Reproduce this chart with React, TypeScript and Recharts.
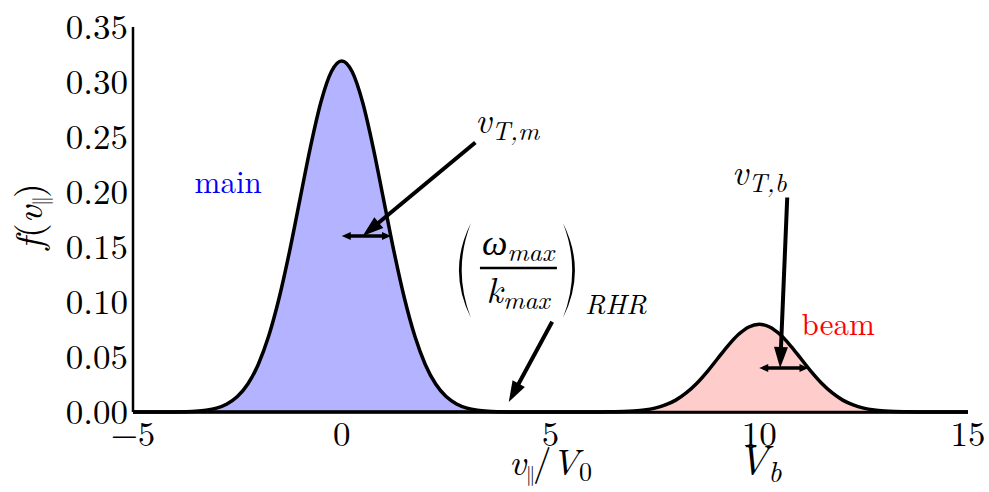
import React from 'react';
import { Area, ComposedChart, ReferenceDot, ReferenceLine, XAxis, YAxis } from 'recharts';

// v_par / V0 sample points
const velocity = [
  -5, -4.75, -4.5, -4.25, -4, -3.75, -3.5, -3.25, -3, -2.75, -2.5, -2.25, -2, -1.75, -1.5, -1.25,
  -1, -0.75, -0.5, -0.25, 0, 0.25, 0.5, 0.75, 1, 1.25, 1.5, 1.75, 2, 2.25, 2.5, 2.75, 3, 3.25,
  3.5, 3.75, 4, 4.25, 4.5, 4.75, 5, 5.25, 5.5, 5.75, 6, 6.25, 6.5, 6.75, 7, 7.25, 7.5, 7.75, 8,
  8.25, 8.5, 8.75, 9, 9.25, 9.5, 9.75, 10, 10.25, 10.5, 10.75, 11, 11.25, 11.5, 11.75, 12, 12.25,
  12.5, 12.75, 13, 13.25, 13.5, 13.75, 14, 14.25, 14.5, 14.75, 15,
];

// main population f(v)
const mainF = [
  0, 0, 0, 0, 0.0001, 0.0003, 0.0007, 0.0016, 0.0035, 0.0073, 0.014, 0.0254, 0.0432, 0.069, 0.1036,
  0.1461, 0.1936, 0.2409, 0.2816, 0.3093, 0.3191, 0.3093, 0.2816, 0.2409, 0.1936, 0.1461, 0.1036,
  0.069, 0.0432, 0.0254, 0.014, 0.0073, 0.0035, 0.0016, 0.0007, 0.0003, 0.0001, 0, 0, 0, 0, 0, 0,
  0, 0, 0, 0, 0, 0, 0, 0, 0, 0, 0, 0, 0, 0, 0, 0, 0, 0, 0, 0, 0, 0, 0, 0, 0, 0, 0, 0, 0, 0, 0, 0,
  0, 0, 0, 0, 0, 0,
];

// beam population f(v)
const beamF = [
  0, 0, 0, 0, 0, 0, 0, 0, 0, 0, 0, 0, 0, 0, 0, 0, 0, 0, 0, 0, 0, 0, 0, 0, 0, 0, 0, 0, 0, 0, 0, 0,
  0, 0, 0, 0, 0, 0, 0, 0, 0, 0, 0, 0, 0, 0.0001, 0.0002, 0.0004, 0.0009, 0.0018, 0.0035, 0.0064,
  0.0108, 0.0173, 0.0259, 0.0365, 0.0484, 0.0602, 0.0704, 0.0773, 0.0798, 0.0773, 0.0704, 0.0602,
  0.0484, 0.0365, 0.0259, 0.0173, 0.0108, 0.0064, 0.0035, 0.0018, 0.0009, 0.0004, 0.0002, 0.0001,
  0, 0, 0, 0, 0,
];

const xTicks = [-5, 0, 5, 10, 15];
const yTicks = [0, 0.05, 0.1, 0.15, 0.2, 0.25, 0.3, 0.35];

// annotation arrows, [from, to] in data coords
const pointerArrows = [
  [{ x: 3.2, y: 0.245 }, { x: 0.5, y: 0.16 }],
  [{ x: 10.67, y: 0.195 }, { x: 10.5, y: 0.04 }],
  [{ x: 5.04, y: 0.082 }, { x: 4.0, y: 0.009 }],
];
const widthArrows = [
  [{ x: 0, y: 0.16 }, { x: 1.18, y: 0.16 }],
  [{ x: 10, y: 0.04 }, { x: 11.18, y: 0.04 }],
];

const data = velocity.map((v, i) => ({ v, main: mainF[i], beam: beamF[i] }));

const CM = '"Latin Modern Roman"';
const GREEK = '"Liberation Serif"';
const fmtX = (v: number) => (v < 0 ? `\u2212${-v}` : `${v}`);
const fmtY = (v: number) => v.toFixed(2);

function head(tx: number, ty: number, ux: number, uy: number, len: number, hw: number) {
  const bx = tx - ux * len;
  const by = ty - uy * len;
  return `${tx},${ty} ${bx - uy * hw},${by + ux * hw} ${bx + uy * hw},${by - ux * hw}`;
}

function arrowShape(len: number, hw: number, sw: number, both: boolean) {
  return (p: any) => {
    const { x1, y1, x2, y2 } = p;
    const d = Math.hypot(x2 - x1, y2 - y1) || 1;
    const ux = (x2 - x1) / d;
    const uy = (y2 - y1) / d;
    const sx = both ? x1 + ux * len * 0.8 : x1;
    const sy = both ? y1 + uy * len * 0.8 : y1;
    return (
      <g>
        <line x1={sx} y1={sy} x2={x2 - ux * len * 0.8} y2={y2 - uy * len * 0.8} stroke="#000" strokeWidth={sw} />
        <polygon points={head(x2, y2, ux, uy, len, hw)} fill="#000" />
        {both && <polygon points={head(x1, y1, -ux, -uy, len, hw)} fill="#000" />}
      </g>
    );
  };
}

const XLabel = (props: any) => {
  const vb = props.viewBox;
  const cx = vb.x + vb.width / 2;
  return (
    <text x={cx} y={vb.y + 63} textAnchor="middle" style={{ fontFamily: CM }} fontSize={37} fill="#000">
      <tspan fontStyle="italic">v</tspan>
      <tspan dy={6} fontSize={20} letterSpacing={-2}>||</tspan>
      <tspan dy={-6}>/</tspan>
      <tspan fontStyle="italic">V</tspan>
      <tspan fontSize={26} dy={6}>0</tspan>
    </text>
  );
};

const YLabel = (props: any) => {
  const vb = props.viewBox;
  const cy = vb.y + vb.height / 2 - 3;
  const x = 42;
  return (
    <text x={x} y={cy} transform={`rotate(-90 ${x} ${cy})`} textAnchor="middle" style={{ fontFamily: CM }} fontSize={38} fill="#000">
      <tspan fontStyle="italic">f</tspan>
      <tspan>(</tspan>
      <tspan fontStyle="italic">v</tspan>
      <tspan dy={6} fontSize={21} letterSpacing={-2}>||</tspan>
      <tspan dy={-6}>)</tspan>
    </text>
  );
};

const subText = (main: string, sub: string, size: number, subSize: number) => (p: any) => (
  <text x={p.cx} y={p.cy} style={{ fontFamily: CM }} fontSize={size} fontStyle="italic" fill="#000">
    <tspan>{main}</tspan>
    <tspan fontSize={subSize} dy={7}>{sub}</tspan>
  </text>
);

const plainText = (label: string, color: string) => (p: any) => (
  <text x={p.cx} y={p.cy} textAnchor="middle" style={{ fontFamily: CM }} fontSize={31} fill={color}>
    {label}
  </text>
);

const VbLabel = (p: any) => (
  <text x={p.cx} y={p.cy + 63} textAnchor="middle" style={{ fontFamily: CM }} fontSize={42} fontStyle="italic" fill="#000">
    <tspan>V</tspan>
    <tspan fontSize={29} dy={7}>b</tspan>
  </text>
);

function paren(x: number, top: number, bot: number, bulge: number) {
  const mid = (top + bot) / 2;
  const t = bulge > 0 ? 5.5 : -5.5;
  return `M${x},${top} Q${x - bulge},${mid} ${x},${bot} Q${x - bulge + t},${mid} ${x},${top} Z`;
}

const Fraction = (p: any) => {
  const { cx, cy } = p;
  return (
    <g fill="#000">
      <path d={paren(cx - 47, cy - 45, cy + 50, 24)} fill="#000" />
      <path d={paren(cx + 45, cy - 45, cy + 50, -24)} fill="#000" />
      <line x1={cx - 38} y1={cy} x2={cx + 39} y2={cy} stroke="#000" strokeWidth={2.5} />
      <text x={cx} y={cy - 13} textAnchor="middle" fontSize={36} fontStyle="italic" style={{ fontFamily: CM }}>
        <tspan style={{ fontFamily: GREEK }}>ω</tspan>
        <tspan fontSize={26} dy={6}>max</tspan>
      </text>
      <text x={cx} y={cy + 35} textAnchor="middle" fontSize={36} fontStyle="italic" style={{ fontFamily: CM }}>
        <tspan>k</tspan>
        <tspan fontSize={26} dy={6}>max</tspan>
      </text>
      <text x={cx + 67} y={cy + 46} fontSize={28} fontStyle="italic" style={{ fontFamily: CM }}>RHR</text>
    </g>
  );
};

const tickLineStyle = { stroke: '#000', strokeWidth: 1.6 };
const frame = { stroke: '#000', strokeWidth: 2.5 };
const tickText = { fill: '#000', fontSize: 35, style: { fontFamily: CM } };

export default function App() {
  return (
    <div style={{ position: 'absolute', left: 0, top: 0, width: 989, height: 492, background: '#fff' }}>
      <ComposedChart width={989} height={492} data={data} margin={{ top: 27, right: 21, bottom: 0, left: 0 }}>
        <XAxis
          xAxisId="b"
          dataKey="v"
          type="number"
          domain={[-5, 15]}
          ticks={xTicks}
          tickFormatter={fmtX}
          height={80}
          tickSize={0}
          tickMargin={9}
          tickLine={false}
          axisLine={frame}
          tick={tickText}
          label={{ content: XLabel }}
        />
        <XAxis xAxisId="bm" dataKey="v" type="number" domain={[-5, 15]} ticks={xTicks} mirror height={0} tickSize={8} tickLine={tickLineStyle} axisLine={false} tick={false} />
        <XAxis xAxisId="tm" orientation="top" dataKey="v" type="number" domain={[-5, 15]} ticks={xTicks} mirror height={0} tickSize={8} tickLine={tickLineStyle} axisLine={frame} tick={false} />
        <YAxis
          yAxisId="l"
          type="number"
          domain={[0, 0.35]}
          ticks={yTicks}
          tickFormatter={fmtY}
          width={133}
          tickSize={0}
          tickMargin={5}
          tickLine={false}
          axisLine={frame}
          tick={tickText}
          label={{ content: YLabel }}
        />
        <YAxis yAxisId="lm" type="number" domain={[0, 0.35]} ticks={yTicks} mirror width={0} tickSize={8} tickLine={tickLineStyle} axisLine={false} tick={false} />
        <YAxis yAxisId="rm" orientation="right" type="number" domain={[0, 0.35]} ticks={yTicks} mirror width={0} tickSize={8} tickLine={tickLineStyle} axisLine={frame} tick={false} />

        <Area xAxisId="b" yAxisId="l" dataKey="main" type="monotone" stroke="#000" strokeWidth={3.5} fill="#b3b3ff" fillOpacity={1} dot={false} activeDot={false} isAnimationActive={false} />
        <Area xAxisId="b" yAxisId="l" dataKey="beam" type="monotone" stroke="#000" strokeWidth={3.5} fill="#ffcccc" fillOpacity={1} dot={false} activeDot={false} isAnimationActive={false} />

        {widthArrows.map((seg, i) => (
          <ReferenceLine key={`w${i}`} xAxisId="b" yAxisId="l" segment={seg} ifOverflow="visible" shape={arrowShape(9, 4, 3.5, true)} />
        ))}
        {pointerArrows.map((seg, i) => (
          <ReferenceLine key={`p${i}`} xAxisId="b" yAxisId="l" segment={seg} ifOverflow="visible" shape={arrowShape(21, 7, 4, false)} />
        ))}

        <ReferenceDot xAxisId="b" yAxisId="l" x={-2.72} y={0.199} ifOverflow="visible" shape={plainText('main', '#0000ff')} />
        <ReferenceDot xAxisId="b" yAxisId="l" x={11.89} y={0.07} ifOverflow="visible" shape={plainText('beam', '#ff0000')} />
        <ReferenceDot xAxisId="b" yAxisId="l" x={3.19} y={0.2536} ifOverflow="visible" shape={subText('v', 'T,m', 36, 26)} />
        <ReferenceDot xAxisId="b" yAxisId="l" x={9.34} y={0.2064} ifOverflow="visible" shape={subText('v', 'T,b', 36, 26)} />
        <ReferenceDot xAxisId="b" yAxisId="l" x={4.22} y={0.131} ifOverflow="visible" shape={Fraction} />
        <ReferenceDot xAxisId="b" yAxisId="l" x={10} y={0} ifOverflow="visible" shape={VbLabel} />
      </ComposedChart>
    </div>
  );
}
